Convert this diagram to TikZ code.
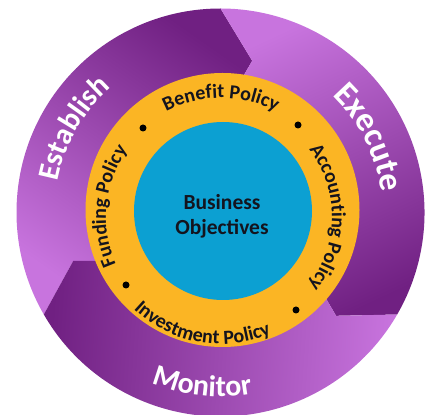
\documentclass[tikz,border=0pt]{standalone}
\usepackage{fontspec}
\setmainfont{Carlito}
\usetikzlibrary{decorations.text}
\definecolor{pdark}{RGB}{112,32,130}
\definecolor{plight}{RGB}{200,116,222}
\definecolor{ringcol}{RGB}{251,181,36}
\definecolor{corecol}{RGB}{12,160,210}
\definecolor{inktxt}{RGB}{20,20,30}
\begin{document}
\begin{tikzpicture}[x=1pt,y=1pt,
  seg/.style={shade, top color=pdark, bottom color=plight},
  dotmark/.style={circle, fill=black, inner sep=0pt, minimum size=7pt},
  corelabel/.style={anchor=base, text=inktxt, font=\bfseries\fontsize{21.5}{25}\selectfont},
  ringtext/.style={decorate, decoration={text along path, text align=center,
     text={|\color{inktxt}\bfseries\fontsize{20}{24}\selectfont|#1}}},
  outtext/.style n args={2}{decorate, decoration={text along path, text align=center,
     text={|\color{white}\bfseries\fontsize{#1}{#1}\selectfont|#2}}}
]
\useasboundingbox (0,0) rectangle (426,415);
% outer ring: three arrow segments
\begin{scope}[shift={(220.5,202.5)}]
  % Establish
  \path[seg, shading angle=-35] (90:204) arc[start angle=90, end angle=210, radius=204]
    -- (198.2:155) -- (204.2:118) arc[start angle=204.2, end angle=84.2, radius=118]
    -- (78.2:155) -- cycle;
  % Execute
  \path[seg, shading angle=-155] (-30:204) arc[start angle=-30, end angle=90, radius=204]
    -- (78.2:155) -- (84.2:118) arc[start angle=84.2, end angle=-35.8, radius=118]
    -- (-41.8:155) -- cycle;
  % Monitor
  \path[seg, shading angle=86] (-150:204) arc[start angle=-150, end angle=-30, radius=204]
    -- (-41.8:155) -- (-35.8:118) arc[start angle=-35.8, end angle=-155.8, radius=118]
    -- (-161.8:155) -- cycle;
\end{scope}
% yellow ring and blue core
\fill[ringcol] (222.5,205) circle[radius=137];
\fill[corecol] (223,204) circle[radius=89];
% bullets
\node[dotmark] (d1) at (143,287) {};
\node[dotmark] (d2) at (298,290) {};
\node[dotmark] (d3) at (126,130) {};
\node[dotmark] (d4) at (296,105) {};
% centre text
\node[corelabel] (bus) at (222,205) {Business};
\node[corelabel] (obj) at (222,180) {Objectives};
% ring texts
\begin{scope}[shift={(221,198)}]
  \path[ringtext={Benefit Policy}] (160:119) arc[start angle=160, end angle=20, radius=119];
  \path[ringtext={Accounting Policy}] (69.7:111) arc[start angle=69.7, end angle=-70.3, radius=111];
  \path[ringtext={Funding Policy}] (244.2:115) arc[start angle=244.2, end angle=104.2, radius=115];
  \path[ringtext={Investment Policy}] (190:127) arc[start angle=190, end angle=330, radius=127];
\end{scope}
% outer texts
\begin{scope}[shift={(220.5,202.5)}]
  \path[outtext={30}{Establish}] (200.2:166) arc[start angle=200.2, end angle=100.2, radius=166];
  \path[outtext={34}{Execute}] (76.7:162) arc[start angle=76.7, end angle=-23.3, radius=162];
  \path[outtext={30}{Monitor}] (214:184) arc[start angle=214, end angle=314, radius=184];
\end{scope}
\end{tikzpicture}
\end{document}
